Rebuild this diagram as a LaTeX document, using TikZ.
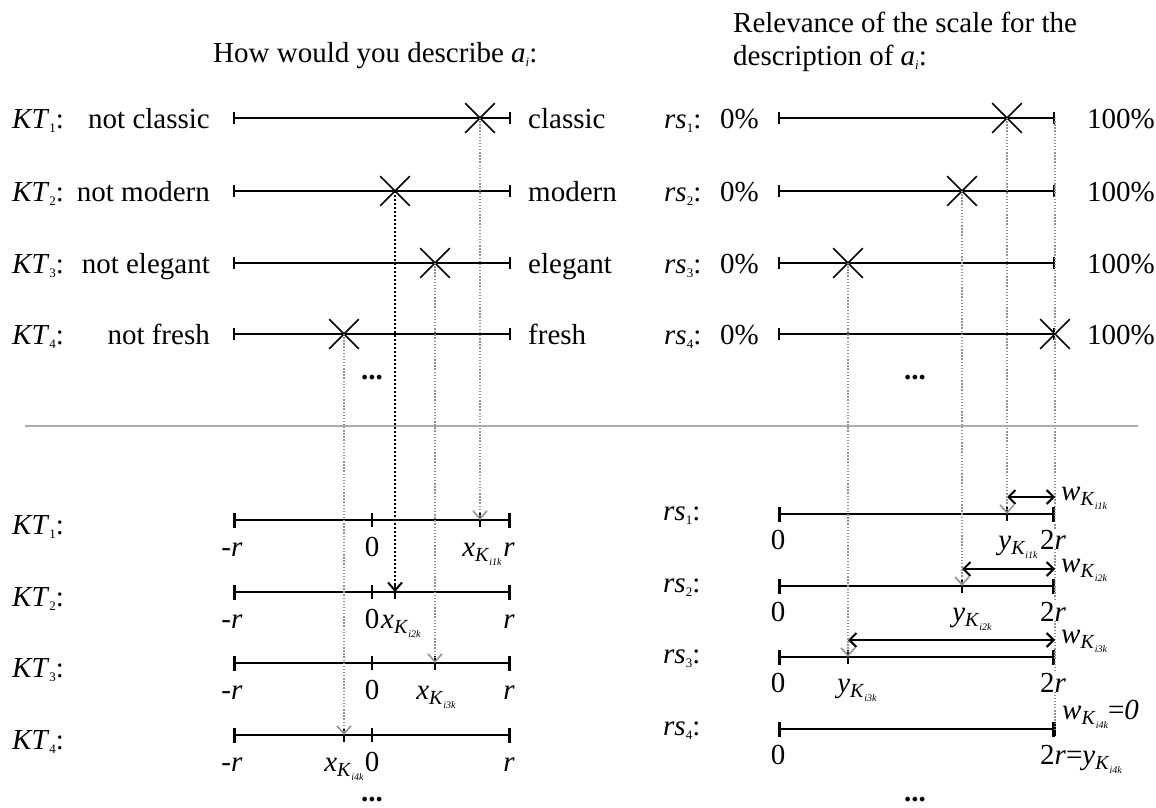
\documentclass[tikz,border=0pt]{standalone}
\usepackage{fontspec}
\setmainfont{Liberation Serif}
\usetikzlibrary{arrows.meta,shapes.misc}
\newcommand{\ksub}[1]{\raisebox{-4pt}{\fontsize{13}{13}\selectfont #1}}
\newcommand{\vk}[2]{\textit{#1}\raisebox{-5pt}{\fontsize{20}{20}\selectfont\textit{K}\raisebox{-4pt}{\fontsize{10}{10}\selectfont\textit{#2}}}}
\newcommand{\ai}{\textit{a}\raisebox{-4pt}{\fontsize{13}{13}\selectfont\textit{i}}}
\begin{document}
\begin{tikzpicture}[x=1pt,y=-1pt,
  every node/.style={font=\fontsize{29}{33}\selectfont, inner sep=0pt},
  dts/.style={font=\fontsize{29}{33}\selectfont\bfseries},
  scl/.style={line width=2pt, {Bar[width=12pt]}-{Bar[width=12pt]}},
  bscl/.style={line width=2.6pt, {Bar[width=15pt]}-{Bar[width=15pt]}},
  xmark/.style={cross out, draw, minimum size=28pt, line width=1.6pt},
  tck/.style={line width=2.4pt},
  sepline/.style={draw=gray!65, line width=2pt},
  gline/.style={draw=gray!85, line width=1.4pt, dash pattern=on 1.4pt off 1.7pt},
  garrow/.style={gline, -{Straight Barb[length=8pt,width=14pt,line width=1.6pt]}},
  barrow/.style={draw=black, line width=2.2pt, dash pattern=on 2pt off 2pt, -{Straight Barb[length=8pt,width=14pt,line width=2pt]}},
  darrow/.style={line width=2pt, {Straight Barb[length=7pt,width=14pt]}-{Straight Barb[length=7pt,width=14pt]}},
  wlab/.style={fill=white},
]
\useasboundingbox (0,0) rectangle (1156,807);

% titles
\node[anchor=base west] (t1) at (213,62) {How would you describe \ai:};
\node[anchor=base west] (t2a) at (733,32) {Relevance of the scale for the};
\node[anchor=base west] (t2b) at (733,65) {description of \ai:};

% top rows
\foreach \i/\y/\ln/\rn/\mx/\my in {1/118/not classic/classic/480/1007,2/191/not modern/modern/395/962,3/263/not elegant/elegant/435/848,4/334/not fresh/fresh/344/1055}{
  \node[anchor=base west] (kt\i) at (12,\y+10) {\textit{KT}\ksub{\i}:};
  \node[anchor=base east] (nl\i) at (210,\y+10) {\ln};
  \coordinate (la\i) at (233,\y);
  \coordinate (lb\i) at (511,\y);
  \draw[scl] (la\i) -- (lb\i);
  \node[xmark] (mx\i) at (\mx,\y) {};
  \node[anchor=base west] (pl\i) at (528,\y+10) {\rn};
  \node[anchor=base west] (rs\i) at (664,\y+10) {\textit{rs}\ksub{\i}:};
  \node[anchor=base west] (z\i) at (720,\y+10) {0\%};
  \coordinate (ra\i) at (778,\y);
  \coordinate (rb\i) at (1055,\y);
  \draw[scl] (ra\i) -- (rb\i);
  \node[xmark] (my\i) at (\my,\y) {};
  \node[anchor=base west] (h\i) at (1087,\y+10) {100\%};
}
\node[dts] (dl) at (372,378) {...};
\node[dts] (dr) at (915,378) {...};

% separator
\coordinate (s0) at (25,426);
\coordinate (s1) at (1138,426);
\draw[sepline] (s0) -- (s1);

% bottom left
\foreach \i/\y/\m in {1/520/480,2/592/395,3/663/435,4/735/344}{
  \node[anchor=base west] (bk\i) at (12,\y+14) {\textit{KT}\ksub{\i}:};
  \coordinate (ba\i) at (233,\y);
  \coordinate (bb\i) at (511,\y);
  \coordinate (bz\i) at (372,\y);
  \coordinate (bm\i) at (\m,\y);
  \draw[bscl] (ba\i) -- (bb\i);
  \draw[tck] ([yshift=7pt]bz\i) -- ([yshift=-7pt]bz\i);
  \draw[tck] ([yshift=7pt]bm\i) -- ([yshift=-7pt]bm\i);
  \node[anchor=base] (mr\i) at (232,\y+36) {-\textit{r}};
  \node[anchor=base] (pr\i) at (509,\y+36) {\textit{r}};
}
\node[anchor=base] (o1) at (372,556) {0};
\node[anchor=base east] (x1) at (502,556) {\vk{x}{i1k}};
\node[anchor=base] (o2) at (372,628) {0};
\node[anchor=base west] (x2) at (381,628) {\vk{x}{i2k}};
\node[anchor=base] (o3) at (372,699) {0};
\node[anchor=base] (x3) at (436,699) {\vk{x}{i3k}};
\node[anchor=base] (o4) at (372,771) {0};
\node[anchor=base east] (x4) at (364,771) {\vk{x}{i4k}};

\draw[garrow] (mx1.center) -- (bm1);
\draw[barrow] (mx2.center) -- (bm2);
\draw[garrow] (mx3.center) -- (bm3);
\draw[garrow] (mx4.center) -- (bm4);

% bottom right
\foreach \i/\y/\m in {1/514/1007,2/586/962,3/657/848,4/729/1055}{
  \node[anchor=base west] (br\i) at (663,\y+6) {\textit{rs}\ksub{\i}:};
  \coordinate (ca\i) at (778,\y);
  \coordinate (cb\i) at (1055,\y);
  \coordinate (cm\i) at (\m,\y);
  \coordinate (cw\i) at (\m,\y-17);
  \coordinate (ce\i) at (1055,\y-17);
  \draw[bscl] (ca\i) -- (cb\i);
  \draw[tck] ([yshift=7pt]cm\i) -- ([yshift=-7pt]cm\i);
  \node[anchor=base] (cz\i) at (778,\y+35) {0};
}
\draw[gline] (rb1) -- (cb4);
\foreach \i/\y in {1/514,2/586,3/657}{
  \node[anchor=base, wlab] (tr\i) at (1053,\y+35) {2\textit{r}};
  \node[anchor=base west] (w\i) at (1061,\y-14) {\vk{w}{i\i k}};
  \draw[darrow] (cw\i) -- (ce\i);
}
\node[anchor=base east] (y1) at (1038,549) {\vk{y}{i1k}};
\node[anchor=base] (y2) at (972,621) {\vk{y}{i2k}};
\node[anchor=base] (y3) at (857,692) {\vk{y}{i3k}};
\node[anchor=base west, wlab] (y4) at (1040,764) {2\textit{r}=\vk{y}{i4k}};
\node[anchor=base west] (w4) at (1062,719) {\vk{w}{i4k}=\textit{0}};

\draw[garrow] (my1.center) -- (cm1);
\draw[garrow] (my2.center) -- (cm2);
\draw[garrow] (my3.center) -- (cm3);

\node[dts] (dbl) at (372,800) {...};
\node[dts] (dbr) at (915,800) {...};
\end{tikzpicture}
\end{document}
